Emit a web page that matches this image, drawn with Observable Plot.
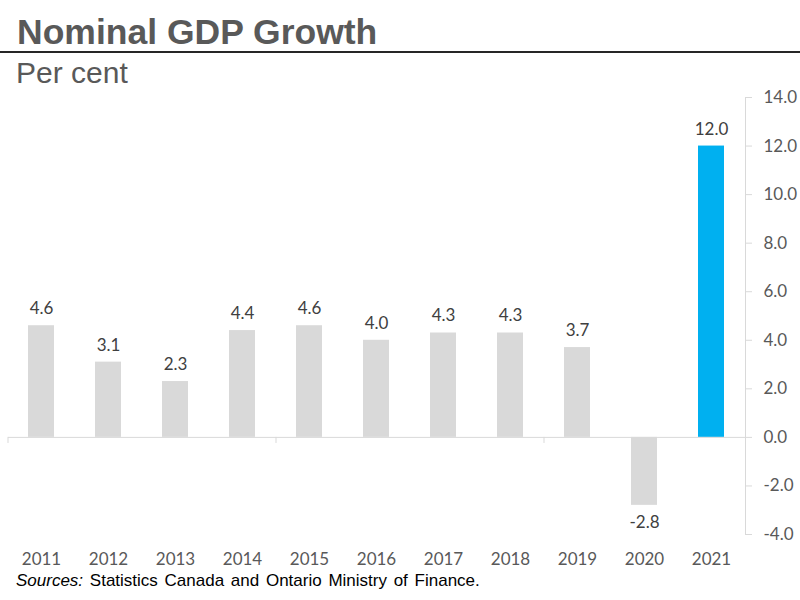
<!DOCTYPE html>
<html>
<head>
<meta charset="utf-8">
<script src="https://cdn.jsdelivr.net/npm/d3@7"></script>
<script src="https://cdn.jsdelivr.net/npm/@observablehq/plot@0.6"></script>
<style>
  html, body { margin: 0; padding: 0; background: #fff; }
  #page { position: relative; width: 800px; height: 600px; overflow: hidden; }
  #title { position: absolute; left: 17px; top: 15px; font: bold 35.5px/35px "Liberation Sans", Arial, sans-serif; color: #595959; white-space: nowrap; }
  #rule { position: absolute; left: 0; top: 51px; width: 800px; height: 2px; background: #262626; }
  #subtitle { position: absolute; left: 16px; top: 58px; font: 30px/30px "Liberation Sans", Arial, sans-serif; color: #595959; white-space: nowrap; }
  #chart { position: absolute; left: 0; top: 80px; }
  #caption { position: absolute; left: 16px; top: 574px; font: 17px/14px "Liberation Sans", Arial, sans-serif; word-spacing: 2px; color: #000; white-space: nowrap; }
</style>
</head>
<body>
<div id="page">
  <div id="title">Nominal GDP Growth</div>
  <div id="rule"></div>
  <div id="subtitle">Per cent</div>
  <div id="chart"></div>
  <div id="caption"><i>Sources:</i> Statistics Canada and Ontario Ministry of Finance.</div>
</div>
<script>
const years = ["2011","2012","2013","2014","2015","2016","2017","2018","2019","2020","2021"];
const growth = [4.6, 3.1, 2.3, 4.4, 4.6, 4.0, 4.3, 4.3, 3.7, -2.8, 12.0];
const yTicks = [-4, -2, 0, 2, 4, 6, 8, 10, 12, 14];
const categoryTickYears = ["2011", "2015", "2019"];
const highlightYear = "2021";

const data = years.map((year, i) => ({year, value: growth[i]}));
const grey = "#d9d9d9";
const blue = "#00b0f0";

const chart = Plot.plot({
  width: 800,
  height: 494,
  marginTop: 17,
  marginBottom: 40,
  marginLeft: 8,
  marginRight: 55,
  style: {fontFamily: "Lato, sans-serif", fontSize: "17px", background: "transparent"},
  x: {domain: years, paddingInner: 0.61, paddingOuter: 0.305, label: null},
  y: {domain: [-4, 14], label: null},
  marks: [
    Plot.barY(data, {x: "year", y: "value", fill: d => d.year === highlightYear ? blue : grey}),
    Plot.ruleY([0], {stroke: grey}),
    Plot.ruleX(categoryTickYears, {x: d => d, y1: 0, y2: -0.25, dx: -33.5, stroke: grey}),
    Plot.frame({anchor: "right", stroke: grey}),
    Plot.axisY(yTicks, {anchor: "right", tickSize: 6, tickPadding: 12, stroke: grey, fill: "#595959", tickFormat: d => d.toFixed(1), label: null}),
    Plot.axisX({anchor: "bottom", tickSize: 0, tickPadding: 18, fill: "#595959", label: null}),
    Plot.text(data.filter(d => d.value >= 0), {x: "year", y: "value", text: d => d.value.toFixed(1), dy: -17, fill: "#404040"}),
    Plot.text(data.filter(d => d.value < 0), {x: "year", y: "value", text: d => d.value.toFixed(1), dy: 17, fill: "#404040"})
  ]
});
document.getElementById("chart").appendChild(chart);
</script>
</body>
</html>
